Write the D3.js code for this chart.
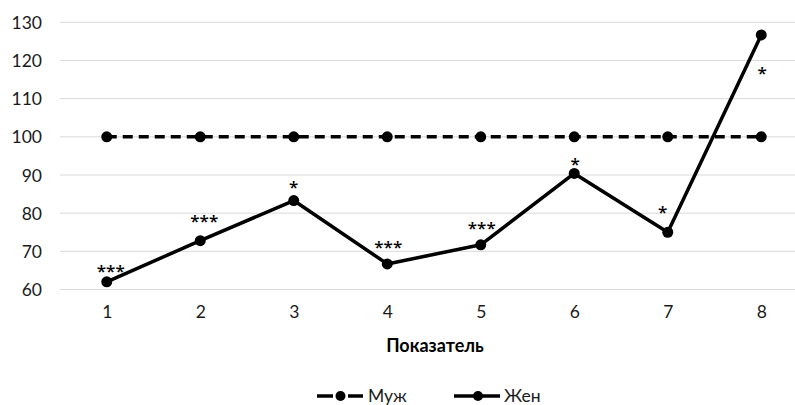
<!DOCTYPE html>
<html><head><meta charset="utf-8">
<script src="https://cdn.jsdelivr.net/npm/d3@7"></script>
<style>
html,body{margin:0;padding:0;background:#fff;}
svg{display:block;font-family:Lato,"Open Sans",sans-serif;}
</style></head>
<body><svg id="c" width="795" height="405"></svg>
<script>
const categories = ["1","2","3","4","5","6","7","8"];
const muzh = [100,100,100,100,100,100,100,100];
const zhen = [62,72.8,83.3,66.7,71.7,90.4,75,126.7];
const zhenLabels = ["***","***","*","***","***","*","*","*"];
const yTicks = [60,70,80,90,100,110,120,130];
const seriesNames = ["Муж","Жен"];
const xTitle = "Показатель";
// label placement offsets (px) relative to point: [dx, dy of glyph centre]
const labelDx = [4,4,0,1,1,1,-5,1];
const labelDy = [-14,-23,-17,-20,-20,-13,-24,35];

const svg = d3.select("#c");
const x = d3.scalePoint().domain(categories).range([60,808]).padding(0.5);
const y = d3.scaleLinear().domain([60,130]).range([289.5,22.3]);

// gridlines
svg.append("g").selectAll("line").data(yTicks).join("line")
  .attr("x1",60).attr("x2",808).attr("y1",d=>y(d)).attr("y2",d=>y(d))
  .attr("stroke","#d9d9d9").attr("stroke-width",1);

// y axis labels
const yAxis = d3.axisLeft(y).tickValues(yTicks).tickSize(0).tickPadding(0);
const gy = svg.append("g").attr("transform","translate(42,0)").call(yAxis);
gy.select(".domain").remove();
gy.selectAll("text").attr("font-size",17.5).attr("fill","#1a1a1a").attr("font-family","Lato,sans-serif").attr("dy","0.35em");

// x axis labels
const xAxis = d3.axisBottom(x).tickSize(0).tickPadding(0);
const gx = svg.append("g").attr("transform","translate(0,306)").call(xAxis);
gx.select(".domain").remove();
gx.selectAll("text").attr("font-size",17.5).attr("fill","#1a1a1a").attr("font-family","Lato,sans-serif").attr("dy","0.71em");

// axis title
svg.append("text").attr("x",435).attr("y",352).attr("text-anchor","middle")
  .attr("font-size",18).attr("font-weight","bold").attr("fill","#000").text(xTitle);

const line = d3.line().x((d,i)=>x(categories[i])).y(d=>y(d));

// Муж dashed
svg.append("path").datum(muzh).attr("d",line).attr("fill","none")
  .attr("stroke","#000").attr("stroke-width",3.5).attr("stroke-dasharray","10,6");
svg.append("g").selectAll("circle").data(muzh).join("circle")
  .attr("cx",(d,i)=>x(categories[i])).attr("cy",d=>y(d)).attr("r",5.5).attr("fill","#000");

// Жен solid
svg.append("path").datum(zhen).attr("d",line).attr("fill","none")
  .attr("stroke","#000").attr("stroke-width",3.5).attr("stroke-linejoin","round");
svg.append("g").selectAll("circle").data(zhen).join("circle")
  .attr("cx",(d,i)=>x(categories[i])).attr("cy",d=>y(d)).attr("r",5.5).attr("fill","#000");

// significance labels
svg.append("g").selectAll("text").data(zhen).join("text")
  .attr("x",(d,i)=>x(categories[i])+labelDx[i])
  .attr("y",(d,i)=>y(d)+labelDy[i]+9.5)
  .attr("text-anchor","middle").attr("font-size",17).attr("fill","#000")
  .attr("font-family","'Open Sans',sans-serif").attr("font-weight",600)
  .text((d,i)=>zhenLabels[i]);

// legend
const lg = svg.append("g");
const ly = 396;
lg.append("line").attr("x1",317).attr("x2",333).attr("y1",ly).attr("y2",ly).attr("stroke","#000").attr("stroke-width",3.5);
lg.append("line").attr("x1",348).attr("x2",363).attr("y1",ly).attr("y2",ly).attr("stroke","#000").attr("stroke-width",3.5);
lg.append("circle").attr("cx",340.5).attr("cy",ly).attr("r",5).attr("fill","#000");
lg.append("text").attr("x",368).attr("y",ly).attr("dy","0.35em").attr("font-size",17.5).attr("fill","#1a1a1a").text(seriesNames[0]);
lg.append("line").attr("x1",454).attr("x2",500).attr("y1",ly).attr("y2",ly).attr("stroke","#000").attr("stroke-width",3.5);
lg.append("circle").attr("cx",478).attr("cy",ly).attr("r",5).attr("fill","#000");
lg.append("text").attr("x",504).attr("y",ly).attr("dy","0.35em").attr("font-size",17.5).attr("fill","#1a1a1a").text(seriesNames[1]);
</script></body></html>
